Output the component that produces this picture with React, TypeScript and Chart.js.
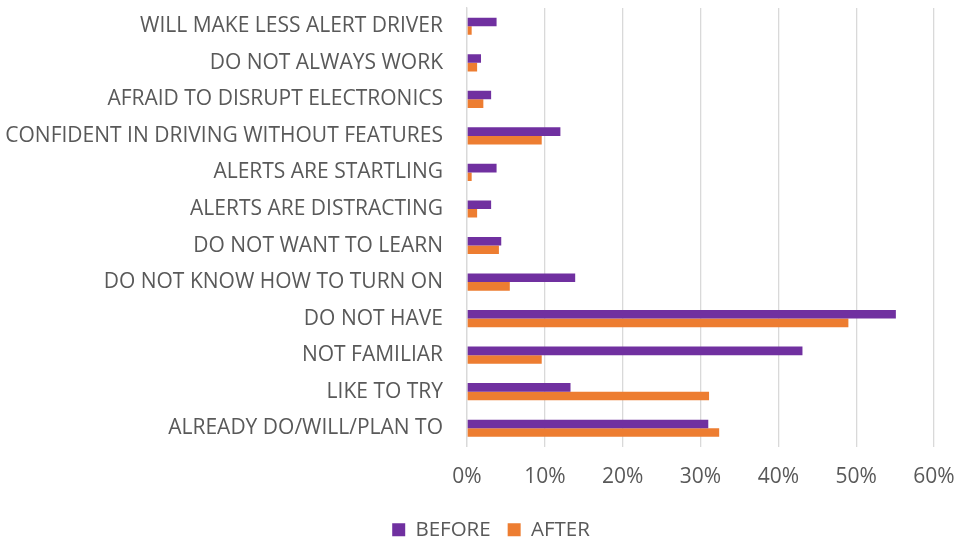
import React, { useEffect, useRef } from "react";
import { Chart, registerables } from "chart.js";

Chart.register(...registerables);

const categories = [
  "WILL MAKE LESS ALERT DRIVER",
  "DO NOT ALWAYS WORK",
  "AFRAID TO DISRUPT ELECTRONICS",
  "CONFIDENT IN DRIVING WITHOUT FEATURES",
  "ALERTS ARE STARTLING",
  "ALERTS ARE DISTRACTING",
  "DO NOT WANT TO LEARN",
  "DO NOT KNOW HOW TO TURN ON",
  "DO NOT HAVE",
  "NOT FAMILIAR",
  "LIKE TO TRY",
  "ALREADY DO/WILL/PLAN TO",
];

const beforeValues = [3.8, 1.8, 3.1, 12.0, 3.8, 3.1, 4.4, 13.9, 55.1, 43.1, 13.3, 31.0];
const afterValues = [0.6, 1.3, 2.1, 9.6, 0.6, 1.3, 4.1, 5.5, 49.0, 9.6, 31.1, 32.4];

const xTicks = [0, 10, 20, 30, 40, 50, 60];

const FONT = "'Open Sans', sans-serif";
const TEXT = "#595959";
const W = 956;
const H = 550; // slightly taller canvas, clipped to 539 by the container

const legendShift = {
  id: "legendShift",
  afterLayout(chart: any) {
    const l = chart.legend;
    if (l) {
      l.left += 24;
      l.right += 24;
    }
  },
};

export default function App() {
  const ref = useRef<HTMLCanvasElement | null>(null);

  useEffect(() => {
    if (!ref.current) return;
    const chart = new Chart(ref.current, {
      type: "bar",
      data: {
        labels: categories,
        datasets: [
          {
            label: "BEFORE",
            data: beforeValues,
            backgroundColor: "#7030A0",
            categoryPercentage: 0.47,
            barPercentage: 1,
          },
          {
            label: "AFTER",
            data: afterValues,
            backgroundColor: "#ED7D31",
            categoryPercentage: 0.47,
            barPercentage: 1,
          },
        ],
      },
      options: {
        indexAxis: "y",
        animation: false,
        responsive: false,
        maintainAspectRatio: false,
        layout: { padding: { top: 8, left: 0, right: 22, bottom: 0 } },
        scales: {
          x: {
            min: 0,
            max: 60,
            afterBuildTicks: (scale: any) => {
              scale.ticks = xTicks.map((v) => ({ value: v }));
            },
            afterFit: (scale: any) => {
              scale.height = 56;
              scale.paddingLeft = 0;
              scale.paddingRight = 0;
            },
            grid: { color: "#d9d9d9", lineWidth: 1.3, drawTicks: false },
            border: { display: false },
            ticks: {
              color: TEXT,
              font: { family: FONT, size: 21 },
              padding: 18,
              callback: (v: any) => v + "%",
            },
          },
          y: {
            afterFit: (scale: any) => {
              scale.width = 467;
              scale.paddingTop = 0;
              scale.paddingBottom = 0;
            },
            grid: { display: false, drawTicks: false },
            border: { display: true, color: "#d9d9d9", width: 1.3 },
            ticks: {
              color: TEXT,
              font: { family: FONT, size: 21 },
              padding: 24,
              autoSkip: false,
            },
          },
        },
        plugins: {
          legend: {
            position: "bottom",
            labels: {
              color: TEXT,
              font: { family: FONT, size: 20.5 },
              boxWidth: 13,
              boxHeight: 13,
              padding: 17,
            },
          },
          tooltip: { enabled: false },
        },
      },
      plugins: [legendShift],
    });
    return () => chart.destroy();
  }, []);

  return (
    <div
      style={{
        position: "absolute",
        left: 0,
        top: 0,
        width: 956,
        height: 539,
        overflow: "hidden",
        background: "#fff",
      }}
    >
      <canvas ref={ref} width={W} height={H} style={{ width: W, height: H, display: "block" }} />
    </div>
  );
}
